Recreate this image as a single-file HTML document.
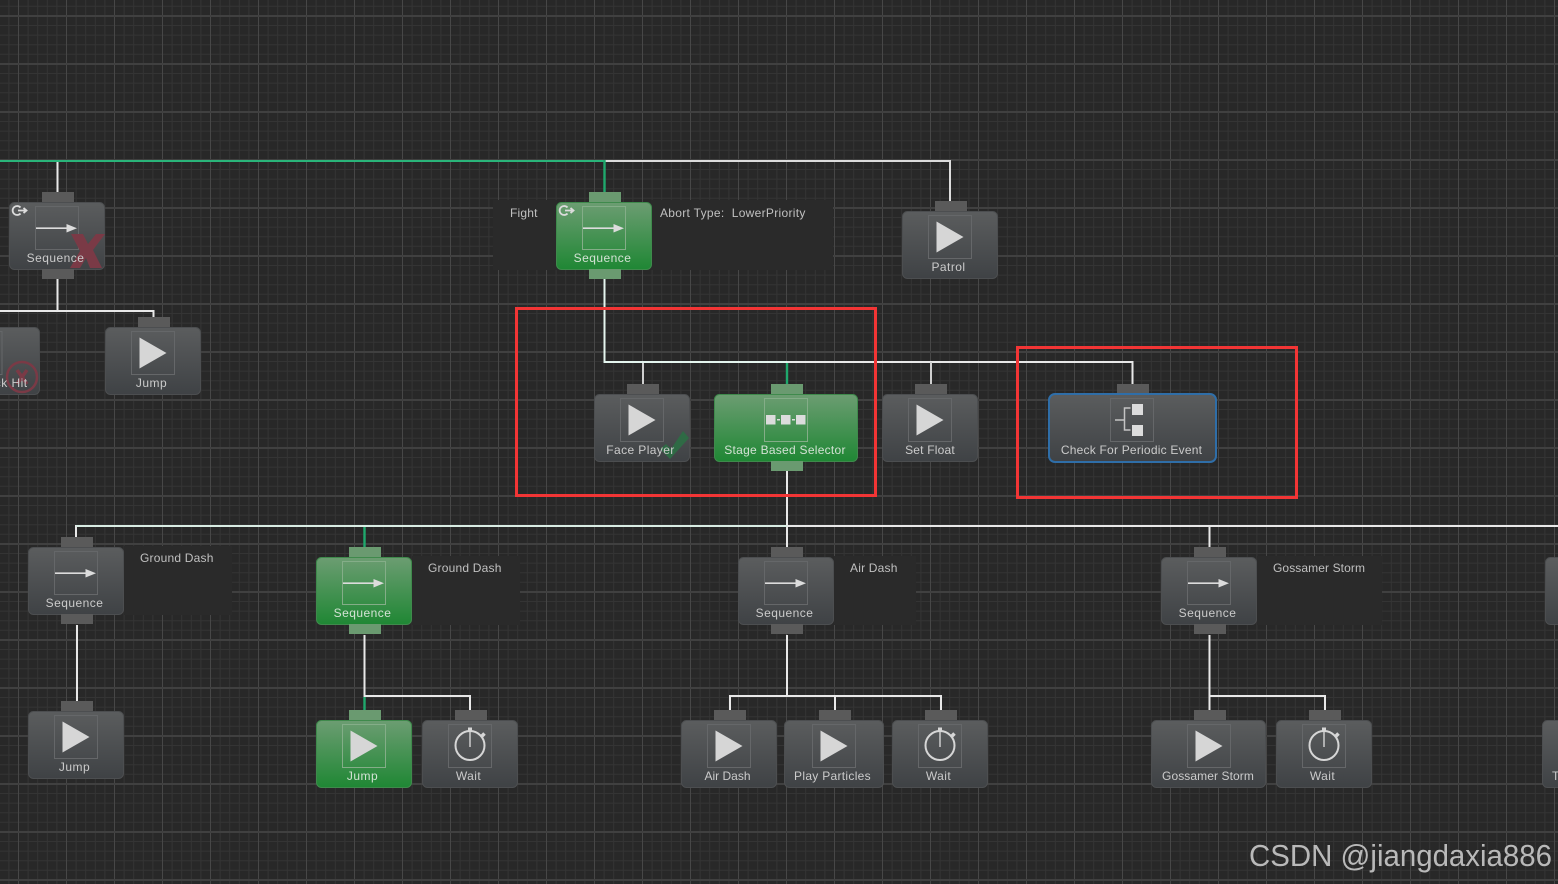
<!DOCTYPE html>
<html><head><meta charset="utf-8">
<style>
html,body{margin:0;padding:0;background:#282828;width:1558px;height:884px;overflow:hidden}
svg{display:block}
text{font-family:"Liberation Sans",sans-serif;font-size:12px;letter-spacing:.45px;fill:#cbcbcb;text-anchor:middle}
.g text{fill:#d3e2d4}
.c{text-anchor:start;fill:#c0c0c0;letter-spacing:.2px}
</style></head><body>
<svg width="1558" height="884" viewBox="0 0 1558 884" xmlns="http://www.w3.org/2000/svg">
<defs>
<linearGradient id="gr" x1="0" y1="0" x2="0" y2="1"><stop offset="0" stop-color="#5b5d5e"/><stop offset="1" stop-color="#3f4245"/></linearGradient>
<linearGradient id="gn" x1="0" y1="0" x2="0" y2="1"><stop offset="0" stop-color="#6c9d72"/><stop offset="1" stop-color="#1f8734"/></linearGradient>
<pattern id="minor" width="48" height="48" patternUnits="userSpaceOnUse" x="18" y="15">
<path d="M.5 0V48M10.1 0V48M19.7 0V48M29.3 0V48M38.9 0V48M0 10.5H48M0 20.1H48M0 29.7H48M0 39.3H48" stroke="#343434" stroke-width="1" fill="none"/>
<path d="M.5 0V48" stroke="#474747" stroke-width="1"/>
<path d="M0 1H48" stroke="#404040" stroke-width="2"/>
</pattern>
<g id="n96"><rect x="33" y="-10" width="32" height="11" fill="#5a5a5a"/><rect x=".5" y=".5" width="95" height="67" rx="5" fill="url(#gr)" stroke="#4c4e50"/><rect x="26.5" y="4.5" width="43" height="43" fill="none" stroke="#656769"/></g>
<g id="n96g"><rect x="33" y="-10" width="32" height="11" fill="#6a9a70"/><rect x=".5" y=".5" width="95" height="67" rx="5" fill="url(#gn)" stroke="#3f8a4c"/><rect x="26.5" y="4.5" width="43" height="43" fill="none" stroke="#84ad88"/></g>
<polygon id="play" points="34.5,10.500 61.5,26 34.5,41.500" fill="#d6d6d6"/>
<g id="arrow"><path d="M27 26.200H60" stroke="#dcdcdc" stroke-width="1.600"/><polygon points="57.500,22 68,26.200 57.500,30.500" fill="#dcdcdc"/></g>
<g id="watch" fill="none" stroke="#d6d6d6"><circle cx="48" cy="25.500" r="14.500" stroke-width="2"/><path d="M48 12V27" stroke-width="1.400"/><path d="M48 7.500V11" stroke-width="4"/><path d="M59.500 16.500L62.500 13.500" stroke-width="3.500"/></g>
<g id="retry" fill="none" stroke="#dcdcdc" stroke-width="1.800"><path d="M11.500 5.500A4.500 4.500 0 1 0 11.500 11.500"/><path d="M9 8.500H17M14.500 6L17.500 8.500L14.500 11"/></g>
</defs>

<rect width="1558" height="884" fill="#282828"/>
<rect width="1558" height="884" fill="url(#minor)"/>

<!-- comment panels -->
<g fill="#2a2a2a">
<rect x="493" y="200" width="64" height="70"/><rect x="651" y="200" width="182" height="70"/>
<rect x="124" y="546" width="108" height="69"/><rect x="412" y="556" width="108" height="69"/>
<rect x="834" y="556" width="82" height="69"/><rect x="1257" y="556" width="125" height="69"/>
</g>

<!-- connectors -->
<g fill="none" stroke="#e8e8e8" stroke-width="2">
<path d="M605 161H950V201" stroke="#dcdcdc"/>
<path d="M57.500 161V192M57.500 279V311M0 311H153.500V318"/>
<path d="M604.500 279V362H1132.500V384"/>
<path d="M643 362V384M931 362V384" stroke="#cfcfcf"/>
<path d="M787 471V547"/>
<path d="M76 537V526H1558M1209.500 526V547"/>
<path d="M77 625V701"/>
<path d="M364.500 635V696H470V710"/>
<path d="M787 635V696M730 710V696H941V710M835 696V710"/>
<path d="M1209.500 635V710M1209.500 696H1325V710"/>
</g>
<path d="M604.500 279V362H787" fill="none" stroke="#e4f5ee" stroke-width="2"/>
<path d="M76 526H787" fill="none" stroke="#d8ece3" stroke-width="2"/>
<path d="M0 161H605" fill="none" stroke="#2ab57a" stroke-width="2"/>
<g fill="none" stroke="#1fa86c" stroke-width="2.400">
<path d="M604.500 160V192"/>
<path d="M787 363V384"/>
<path d="M364.500 527V547"/>
<path d="M364.500 697V710"/>
</g>

<!-- left top sequence -->
<g transform="translate(9,202)"><use href="#n96"/><rect x="33" y="67" width="32" height="10" fill="#5a5a5a"/><use href="#arrow"/><use href="#retry"/>
<polygon points="62,32 74,32 79,42 87,32 96,32 84,48 93,66 81,66 77,56 71,66 61,66 71,49" fill="#7a3a46"/>
<text x="46.500" y="60">Sequence</text></g>

<!-- fight sequence -->
<g transform="translate(556,202)" class="g"><use href="#n96g"/><rect x="33" y="67" width="32" height="10" fill="#6a9a70"/><use href="#arrow"/><use href="#retry"/><text x="46.500" y="60">Sequence</text></g>
<text class="c" x="510" y="217">Fight</text>
<text class="c" x="660" y="217" style="letter-spacing:.3px">Abort Type:&#160; LowerPriority</text>

<!-- patrol -->
<g transform="translate(902,211)"><use href="#n96"/><use href="#play"/><text x="46.500" y="60">Patrol</text></g>

<!-- partial k Hit -->
<rect x="-80" y="327.500" width="119.500" height="67" rx="5" fill="url(#gr)" stroke="#4c4e50"/>
<rect x="-41" y="331.500" width="43" height="43" fill="none" stroke="#656769"/>
<circle cx="22" cy="377" r="15" fill="none" stroke="#7a3a46" stroke-width="2.500"/>
<path d="M17 370L27 384M27 370L17 384" stroke="#7a3a46" stroke-width="3.500"/>
<text x="27.500" y="387" style="text-anchor:end">Attack Hit</text>

<!-- jump top-left -->
<g transform="translate(105,327)"><use href="#n96"/><use href="#play"/><text x="46.500" y="60">Jump</text></g>

<!-- Face Player -->
<g transform="translate(594,394)"><use href="#n96"/><use href="#play"/>
<polygon points="66,55 72,50 77,55 89,37 95,44 76,65" fill="#2f6a45"/>
<text x="46.500" y="60" style="letter-spacing:.4px">Face Player</text></g>

<!-- Stage Based Selector -->
<g transform="translate(714,394)" class="g"><rect x="57" y="-10" width="32" height="11" fill="#6a9a70"/><rect x=".5" y=".5" width="143" height="67" rx="5" fill="url(#gn)" stroke="#3f8a4c"/><rect x="57" y="67" width="32" height="10" fill="#6a9a70"/><rect x="50.500" y="4.500" width="43" height="43" fill="none" stroke="#84ad88"/>
<g fill="#dcdcdc"><rect x="52" y="21" width="9.500" height="9.500"/><rect x="67" y="21" width="9.500" height="9.500"/><rect x="82" y="21" width="9.500" height="9.500"/><rect x="63" y="25" width="3" height="1.500"/><rect x="78" y="25" width="3" height="1.500"/></g>
<text x="71" y="60" style="letter-spacing:.27px">Stage Based Selector</text></g>

<!-- Set Float -->
<g transform="translate(882,394)"><use href="#n96"/><use href="#play"/><text x="48" y="60" style="letter-spacing:.2px">Set Float</text></g>

<!-- Check -->
<g transform="translate(1049,394)"><rect x="68" y="-10" width="32" height="11" fill="#5a5a5a"/><rect x="0" y="0" width="167" height="68" rx="6" fill="url(#gr)" stroke="#2f6ea8" stroke-width="2"/><rect x="61.500" y="4.500" width="43" height="43" fill="none" stroke="#656769"/>
<path d="M66 26H75.500M81.500 14H75.500V36H81.500" fill="none" stroke="#c4c4c4" stroke-width="1.500"/><rect x="83" y="10" width="11" height="11" fill="#dcdcdc"/><rect x="83" y="31" width="11" height="11" fill="#dcdcdc"/>
<text x="82.500" y="60" style="letter-spacing:.22px">Check For Periodic Event</text></g>

<!-- Row 3 -->
<g transform="translate(28,547)"><use href="#n96"/><rect x="33" y="67" width="32" height="10" fill="#5a5a5a"/><use href="#arrow"/><text x="46.500" y="60">Sequence</text></g>
<text class="c" x="140" y="562">Ground Dash</text>
<g transform="translate(316,557)" class="g"><use href="#n96g"/><rect x="33" y="67" width="32" height="10" fill="#6a9a70"/><use href="#arrow"/><text x="46.500" y="60">Sequence</text></g>
<text class="c" x="428" y="572">Ground Dash</text>
<g transform="translate(738,557)"><use href="#n96"/><rect x="33" y="67" width="32" height="10" fill="#5a5a5a"/><use href="#arrow"/><text x="46.500" y="60">Sequence</text></g>
<text class="c" x="850" y="572">Air Dash</text>
<g transform="translate(1161,557)"><use href="#n96"/><rect x="33" y="67" width="32" height="10" fill="#5a5a5a"/><use href="#arrow"/><text x="46.500" y="60">Sequence</text></g>
<text class="c" x="1273" y="572" style="letter-spacing:.1px">Gossamer Storm</text>
<rect x="1545.500" y="557.500" width="30" height="67" rx="5" fill="url(#gr)" stroke="#4c4e50"/>

<!-- Row 4 -->
<g transform="translate(28,711)"><use href="#n96"/><use href="#play"/><text x="46.500" y="60">Jump</text></g>
<g transform="translate(316,720)" class="g"><use href="#n96g"/><use href="#play"/><text x="46.500" y="60">Jump</text></g>
<g transform="translate(422,720)"><use href="#n96"/><use href="#watch"/><text x="46.500" y="60">Wait</text></g>
<g transform="translate(681,720)"><use href="#n96"/><use href="#play"/><text x="46.500" y="60" style="letter-spacing:0">Air Dash</text></g>
<g transform="translate(784,720)"><rect x="35" y="-10" width="32" height="11" fill="#5a5a5a"/><rect x=".5" y=".5" width="99" height="67" rx="5" fill="url(#gr)" stroke="#4c4e50"/><rect x="28.500" y="4.500" width="43" height="43" fill="none" stroke="#656769"/><g transform="translate(2,0)"><use href="#play"/></g><text x="48.500" y="60" style="letter-spacing:.3px">Play Particles</text></g>
<g transform="translate(892,720)"><use href="#n96"/><use href="#watch"/><text x="46.500" y="60">Wait</text></g>
<g transform="translate(1151,720)"><rect x="43" y="-10" width="32" height="11" fill="#5a5a5a"/><rect x=".5" y=".5" width="114" height="67" rx="5" fill="url(#gr)" stroke="#4c4e50"/><rect x="36.500" y="4.500" width="43" height="43" fill="none" stroke="#656769"/><g transform="translate(10,0)"><use href="#play"/></g><text x="57" y="60" style="letter-spacing:.09px">Gossamer Storm</text></g>
<g transform="translate(1276,720)"><use href="#n96"/><use href="#watch"/><text x="46.500" y="60">Wait</text></g>
<rect x="1542.500" y="720.500" width="30" height="67" rx="5" fill="url(#gr)" stroke="#4c4e50"/>
<text x="1552" y="780" style="text-anchor:start">T</text>

<!-- red highlight -->
<rect x="516.500" y="308.500" width="359" height="187" fill="none" stroke="#f23535" stroke-width="3"/>
<rect x="1017.500" y="347.500" width="279" height="150" fill="none" stroke="#f23535" stroke-width="3"/>

<!-- watermark -->
<text x="1249" y="866" textLength="303" lengthAdjust="spacingAndGlyphs" style="text-anchor:start;font-size:31px;letter-spacing:0;fill:#b9b9b9">CSDN @jiangdaxia886</text>
</svg>
</body></html>
